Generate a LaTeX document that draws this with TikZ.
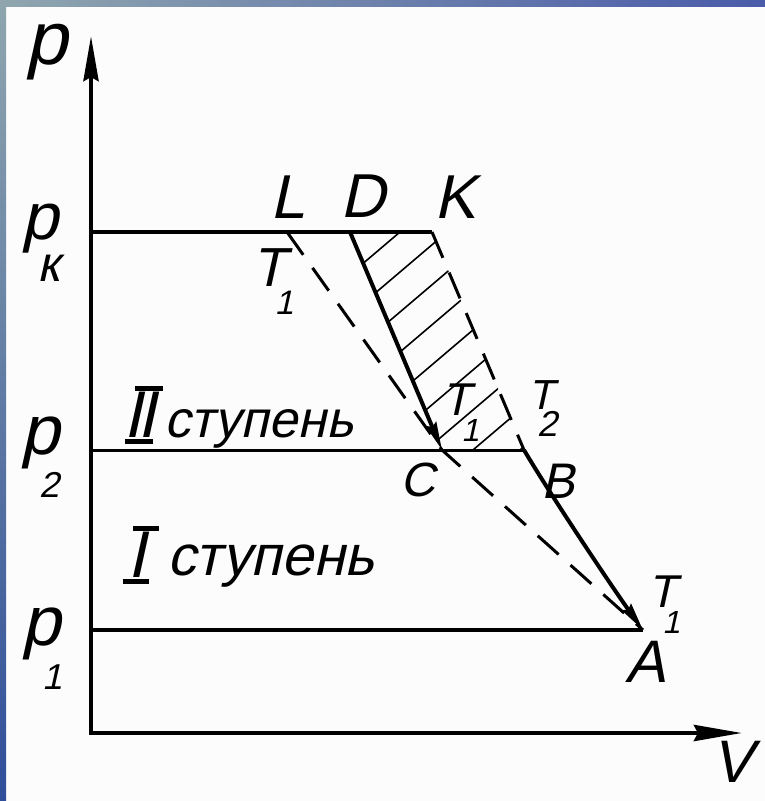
\documentclass[tikz,border=0pt]{standalone}
\usepackage{fontspec}
\setmainfont{Liberation Sans}
\newfontfamily\drf[FakeSlant=0.22]{Liberation Sans}
\usetikzlibrary{arrows.meta}
\definecolor{bandA}{HTML}{8FA6AE}
\definecolor{bandB}{HTML}{4A5BAA}
\definecolor{bandC}{HTML}{2F4E9A}
\definecolor{paper}{HTML}{FCFCFC}
\newcommand\barbox[1]{\vrule width #1 height 4.5pt depth 0pt}
% subscript placed low under the letter: #1 kern, #2 drop, #3 size, #4 text
\newcommand\lowsub[4]{\kern#1\raisebox{-#2}{\fontsize{#3}{#3}\selectfont #4}}
\tikzset{
  lab/.style={inner sep=0pt, font=\drf\fontsize{#1}{#1}\selectfont},
  axisline/.style={line width=4.5pt, line join=miter},
  isobar/.style={line width=#1},
  process/.style={line width=4pt, -{Stealth[length=28pt,width=11pt,inset=3pt]}},
  isotherm/.style={line width=3pt, dash pattern=on 28pt off 16pt},
  hatchline/.style={line width=1.6pt}
}
\begin{document}
\begin{tikzpicture}[x=1pt,y=-1pt]
\useasboundingbox (0,0) rectangle (765,801);
\fill[paper] (0,0) rectangle (765,801);
\shade[left color=bandA, right color=bandB] (0,0) rectangle (765,6);
\shade[top color=bandA, bottom color=bandC] (0,0) rectangle (6,801);

% points
\coordinate (O) at (91,733);
\coordinate (Ytip) at (91,36);
\coordinate (Xtip) at (742,733);
\coordinate (Pk) at (91,232);
\coordinate (P2) at (91,450);
\coordinate (P1) at (91,630);
\coordinate (L) at (287,232);
\coordinate (D) at (350,232);
\coordinate (K) at (432,232);
\coordinate (C) at (442,450);
\coordinate (B) at (524,450);
\coordinate (A) at (643,630);

% hatching
\begin{scope}
  \clip (D) -- (K) -- (B) -- (C) -- cycle;
  \foreach \c in {572,612,...,892}
    \draw[hatchline] (300,{\c-255}) -- (600,{\c-510});
\end{scope}

% axes
\draw[axisline, {Stealth[length=45pt,width=15pt,inset=4pt]}-{Stealth[length=48pt,width=16pt,inset=4pt]}] (Ytip) -- (O) -- (Xtip);

% isobars
\draw[isobar=4pt] (Pk) -- (K);
\draw[isobar=3pt] (P2) -- (B);
\draw[isobar=4pt] (P1) -- (A);

% processes
\draw[process] (D) -- (C);
\draw[process] (B) .. controls (550,494) and (612,587) .. (A);

% dashed lines
\draw[isotherm] (K) -- (B);
\draw[isotherm] (L) -- (C) -- (A);

% labels
\node[lab=75] (ylab) at (46,52) {p};
\node[lab=66, anchor=base west] (pk) at (21.6,239.5) {p\lowsub{-21.4pt}{41.5pt}{50}{к}};
\node[lab=70, anchor=base west] (p2) at (20.5,454.2) {p\lowsub{-20.4pt}{43.7pt}{36}{2}};
\node[lab=70, anchor=base west] (p1) at (21.5,645.2) {p\lowsub{-18.4pt}{44.7pt}{36}{1}};

\node[lab=62] (Llab) at (288,197) {L};
\node[lab=62] (Dlab) at (363,196) {D};
\node[lab=62] (Klab) at (455,197) {K};

\node[lab=55, anchor=base west] (TL) at (252.2,286.7) {T\lowsub{-11.3pt}{27.5pt}{34}{1}};
\node[lab=46, anchor=base west] (TC) at (441.9,415.5) {T\lowsub{-8.9pt}{26pt}{32}{1}};
\node[lab=42, anchor=base west] (T2) at (528.2,409) {T\lowsub{-16.9pt}{27.9pt}{36}{2}};
\node[lab=46, anchor=base west] (TA) at (647.9,607.5) {T\lowsub{-13.9pt}{26pt}{32}{1}};

\node[lab=48] (Clab) at (418,480) {C};
\node[lab=50] (Blab) at (558,481) {B};
\node[lab=60] (Alab) at (646,662) {A};
\node[lab=60] (Vlab) at (733,762) {V};

\node[inner sep=0pt] (romII) at (143,415) {\vbox{\offinterlineskip
  \hbox{\kern12pt\barbox{28pt}}\kern1.5pt
  \hbox{\drf\fontsize{66}{66}\selectfont I\kern-4pt I}\kern1.5pt
  \hbox{\kern2pt\barbox{28pt}}}};
\node[lab=52, anchor=base west] (st2) at (164,437) {ступень};
\node[inner sep=0pt] (romI) at (141,555) {\vbox{\offinterlineskip
  \hbox{\kern10pt\barbox{26pt}}\kern1.5pt
  \hbox{\kern4pt\drf\fontsize{66}{66}\selectfont I}\kern1.5pt
  \hbox{\barbox{26pt}}}};
\node[lab=57, anchor=base west] (st1) at (167,575) {ступень};
\end{tikzpicture}
\end{document}
